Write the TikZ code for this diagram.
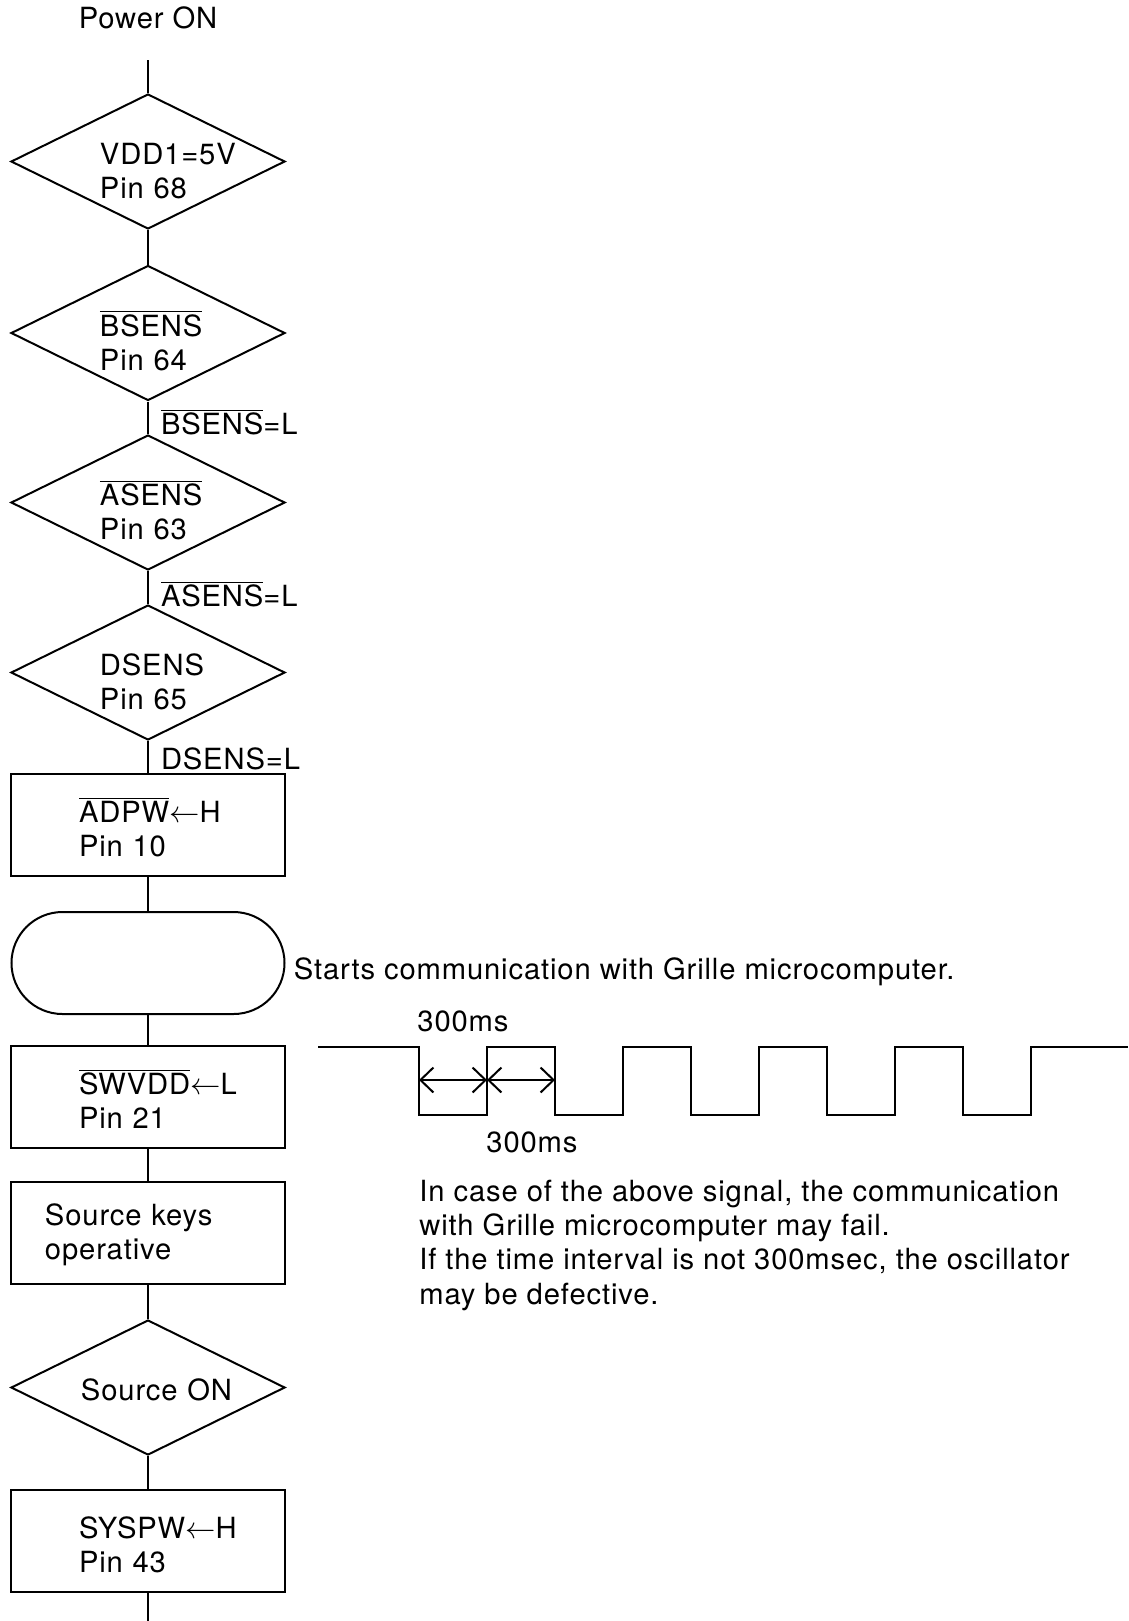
\documentclass[tikz,border=0pt]{standalone}
\usepackage{fontspec}
\setmainfont[LetterSpace=3]{TeX Gyre Heros}
\usepackage{tikz}
\usetikzlibrary{arrows.meta,shapes.geometric,shapes.misc,positioning}

\newcommand{\ovl}[1]{$\overline{\mbox{#1}}$}
\newcommand{\lar}{$\leftarrow$}

\tikzset{
  flowline/.style={line width=0.4mm},
  decision/.style={draw, line width=0.4mm, diamond, aspect=2, inner sep=0pt,
    minimum width=54.8mm, minimum height=27mm, align=left, text width=19.2mm,
    text height=6mm, text depth=4.8mm},
  process/.style={draw, line width=0.4mm, rectangle, inner sep=0pt,
    minimum width=54.6mm, minimum height=20.4mm, align=left, text width=27.6mm,
    text height=5mm, text depth=6mm},
  terminal/.style={draw, line width=0.4mm, rectangle, rounded corners=10.2mm,
    minimum width=54.6mm, minimum height=20.4mm},
  condlabel/.style={right, inner sep=0pt, xshift=2.4mm, yshift=-0.8mm},
  note/.style={inner sep=0pt, align=left},
  dimarrow/.style={line width=0.4mm, >={Straight Barb[length=2.6mm,width=5mm]}, <->}
}

\begin{document}
\begin{tikzpicture}[x=0.2mm, y=-0.2mm, font=\fontsize{16.6}{19.4}\selectfont]
\useasboundingbox (0,0) rectangle (1128,1621);

% flow chart
\node[note] (pwr) at (148,18) {Power ON};
\coordinate (start) at (148,60);
\node[decision] (vdd) at (148,161.5) {VDD1=5V\\Pin 68};
\node[decision] (bsens) at (148,333) {\ovl{BSENS}\\Pin 64};
\node[decision] (asens) at (148,502.5) {\ovl{ASENS}\\Pin 63};
\node[decision] (dsens) at (148,672.5) {DSENS\\Pin 65};
\node[process] (adpw) at (148,825) {\ovl{ADPW}\lar H\\Pin 10};
\node[terminal] (comm) at (148,963) {};
\node[process] (swvdd) at (148,1097) {\ovl{SWVDD}\lar L\\Pin 21};
\node[process, text width=41.2mm, text depth=8mm] (keys) at (148,1233) {Source keys\\operative};
\node[decision, text width=26.8mm, text depth=0.9mm] (srcon) at (148,1387.5) {\mbox{Source ON}};
\node[process] (syspw) at (148,1540.5) {SYSPW\lar H\\Pin 43};
\coordinate (finish) at (148,1621);

\draw[flowline] (start) -- (vdd);
\draw[flowline] (vdd) -- (bsens);
\draw[flowline] (bsens) -- node[condlabel] {\ovl{BSENS}=L} (asens);
\draw[flowline] (asens) -- node[condlabel, yshift=-0.6mm] {\ovl{ASENS}=L} (dsens);
\draw[flowline] (dsens) -- node[condlabel, yshift=0.4mm] {DSENS=L} (adpw);
\draw[flowline] (adpw) -- (comm);
\draw[flowline] (comm) -- (swvdd);
\draw[flowline] (swvdd) -- (keys);
\draw[flowline] (keys) -- (srcon);
\draw[flowline] (srcon) -- (syspw);
\draw[flowline] (syspw) -- (finish);

\node[note, right=1.6mm of comm, yshift=-1.8mm] (commtxt) {Starts communication with Grille microcomputer.};

% signal
\draw[flowline] (318,1047)
  \foreach \k in {0,...,4}{ -- ({419+136*\k},1047) -- ({419+136*\k},1115)
    -- ({487+136*\k},1115) -- ({487+136*\k},1047) }
  -- (1128,1047);
\coordinate (m0) at (419,1080);
\coordinate (m1) at (487,1080);
\coordinate (m2) at (555,1080);
\draw[dimarrow] (m0) -- (m1);
\draw[dimarrow] (m1) -- (m2);
\node[note] (toplbl) at (463,1021) {300ms};
\node[note] (botlbl) at (532,1142) {300ms};

\node[note, anchor=north west] (hint) at (419,1180)
  {In case of the above signal, the communication\\
   with Grille microcomputer may fail.\\
   If the time interval is not 300msec, the oscillator\\
   may be defective.};
\end{tikzpicture}
\end{document}
